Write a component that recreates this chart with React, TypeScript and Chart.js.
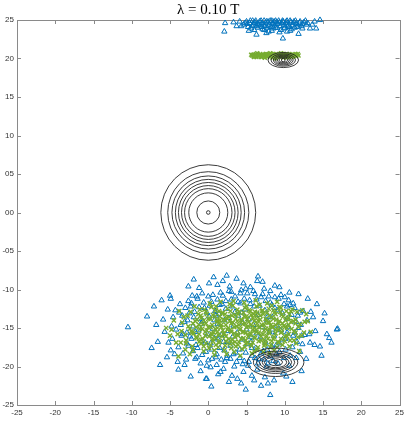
import React, { useEffect, useRef } from 'react';
import { Chart, registerables } from 'chart.js';

Chart.register(...registerables);

const titleText = 'λ = 0.10 T';
const xTicks = [-25, -20, -15, -10, -5, 0, 5, 10, 15, 20, 25];
const xTickLabels = ['-25', '-20', '-15', '-10', '-5', '0', '5', '10', '15', '20', '25'];
const yTicks = [-25, -20, -15, -10, -5, 0, 5, 10, 15, 20, 25];
const yTickLabels = ['-25', '-20', '-15', '-10', '-05', '00', '05', '10', '15', '20', '25'];

const blueTop: [number, number][] = [
  [2.2, 24.6], [2.1, 23.5], [3.3, 24.7], [3.7, 24.2], [4.3, 24.2], [4.6, 24.4], [5.0, 24.8], [5.2, 24.1],
  [5.4, 24.6], [5.6, 23.9], [5.8, 24.9], [5.9, 24.3], [6.1, 24.7], [6.3, 23.1], [6.4, 24.5], [6.5, 24.0],
  [6.7, 24.8], [6.8, 24.3], [7.0, 24.6], [7.1, 23.8], [7.3, 24.9], [7.4, 24.2], [7.5, 24.6], [7.7, 24.0],
  [7.8, 24.8], [7.9, 23.5], [8.0, 24.4], [8.1, 24.9], [8.2, 24.1], [8.4, 24.6], [8.5, 23.9], [8.6, 24.8],
  [8.7, 24.3], [8.9, 24.7], [9.0, 24.0], [9.1, 24.5], [9.2, 24.9], [9.4, 24.2], [9.5, 23.7], [9.6, 24.6],
  [9.75, 22.6], [9.8, 24.8], [9.9, 24.3], [10.0, 24.0], [10.1, 24.6], [10.3, 23.5], [10.3, 24.9], [10.5, 24.4],
  [10.6, 24.1], [10.8, 24.7], [11.0, 24.3], [11.2, 24.8], [11.3, 24.0], [11.5, 24.5], [11.8, 23.2], [11.9, 24.6],
  [12.2, 24.2], [12.5, 24.7], [12.8, 24.4], [13.3, 23.9], [14.1, 23.9], [14.6, 25.0], [13.6, 24.4], [8.3, 23.6],
  [6.0, 23.7], [7.6, 23.3], [10.9, 23.8],
  [5.1, 24.5], [5.5, 24.9], [5.7, 24.2], [6.0, 24.6], [6.2, 24.9], [6.6, 24.4], [6.9, 24.9], [7.2, 24.4],
  [7.6, 24.8], [7.9, 24.2], [8.3, 24.9], [8.5, 24.5], [8.8, 24.9], [9.3, 24.7], [9.7, 24.9], [10.2, 24.8],
  [10.4, 24.2], [10.7, 24.9], [11.1, 24.6], [11.4, 24.9], [11.7, 24.3], [12.0, 24.8], [12.3, 24.5], [12.7, 24.9],
  [13.0, 24.6], [6.3, 24.2], [7.0, 24.1], [8.8, 24.0], [9.9, 23.9], [11.6, 24.1], [5.3, 23.6], [7.3, 23.7],
  [9.3, 23.4], [10.7, 23.6], [12.3, 23.9], [4.8, 24.6], [4.1, 24.8], [13.9, 24.8]
];

const greenTop: [number, number][] = [
  [5.7, 20.4], [5.9, 20.3], [6.0, 20.5], [6.2, 20.4], [6.3, 20.2], [6.5, 20.5], [6.6, 20.3], [6.8, 20.6],
  [6.9, 20.4], [7.0, 20.2], [7.2, 20.5], [7.3, 20.3], [7.5, 20.6], [7.6, 20.4], [7.7, 20.2], [7.9, 20.5],
  [8.0, 20.3], [8.2, 20.6], [8.3, 20.4], [8.4, 20.1], [8.6, 20.5], [8.7, 20.3], [8.9, 20.6], [9.0, 20.4],
  [9.1, 20.2], [9.3, 20.5], [9.4, 20.3], [9.6, 20.6], [9.7, 20.4], [9.8, 20.1], [10.0, 20.5], [10.1, 20.3],
  [10.3, 20.6], [10.4, 20.4], [10.5, 20.2], [10.7, 20.5], [10.8, 20.3], [11.0, 20.5], [11.1, 20.3], [11.3, 20.4],
  [11.5, 20.5], [11.7, 20.6], [6.4, 20.7], [7.4, 20.1], [8.1, 20.7], [8.8, 20.0], [9.5, 20.7], [10.2, 20.1],
  [7.8, 20.4], [9.2, 20.4],
  [5.8, 20.5], [6.1, 20.3], [6.4, 20.4], [6.7, 20.5], [7.1, 20.4], [7.4, 20.5], [7.7, 20.5], [8.0, 20.5],
  [8.3, 20.3], [8.5, 20.5], [8.8, 20.4], [9.1, 20.5], [9.4, 20.5], [9.7, 20.3], [10.0, 20.3], [10.2, 20.5],
  [10.5, 20.4], [10.9, 20.4], [11.2, 20.5], [11.5, 20.3], [6.2, 20.6], [6.9, 20.2], [7.6, 20.6], [8.4, 20.6],
  [9.0, 20.2], [9.8, 20.6], [10.6, 20.6], [11.4, 20.6], [6.0, 20.2], [7.2, 20.3], [8.6, 20.2], [9.9, 20.4],
  [10.9, 20.2], [5.6, 20.5], [11.8, 20.4]
];

const blueBottom: [number, number][] = [
  [-10.5, -14.9], [-8.0, -13.5], [-5.0, -10.8], [-4.9, -11.2], [-1.9, -8.7], [-5.9, -13.9], [-5.3, -12.6], [-5.7, -15.5],
  [-6.3, -19.8], [-3.9, -20.4], [-4.0, -19.4], [-5.4, -18.8], [-4.9, -17.9], [-4.7, -16.4], [-4.3, -12.7], [-3.4, -13.4],
  [-2.1, -10.8], [-0.8, -10.5], [-2.3, -12.2], [-1.4, -11.2], [-3.9, -17.5], [-2.6, -17.3], [-1.5, -18.8], [-0.2, -19.9],
  [-0.2, -21.6], [0.7, -8.4], [2.4, -8.2], [3.7, -8.6], [1.2, -9.4], [6.4, -8.9], [5.5, -9.7], [9.3, -9.7],
  [8.1, -10.2], [10.6, -10.4], [11.8, -10.6], [3.0, -10.3], [4.2, -10.5], [10.3, -12.2], [12.4, -12.8], [13.4, -12.9],
  [15.0, -14.1], [16.9, -15.1], [11.5, -14.2], [10.3, -13.8], [16.8, -15.2], [15.5, -15.8], [15.8, -16.3], [14.8, -18.6],
  [12.2, -20.6], [9.8, -20.9], [7.4, -21.4], [8.1, -23.7], [-0.3, -21.6], [5.7, -21.2], [3.1, -21.2], [4.6, -20.7],
  [2.0, -20.3], [0.3, -20.1], [1.1, -19.8], [-1.7, -19.0], [12.2, -16.0], [11.6, -16.8], [12.0, -18.1],
  [-3.1, -14.2], [-2.8, -15.6], [-2.5, -13.1], [-2.2, -16.4], [-2.0, -14.8], [-1.8, -12.9], [-1.6, -17.2], [-1.3, -15.3],
  [-1.1, -13.8], [-0.9, -16.7], [-0.7, -14.1], [-0.5, -12.4], [-0.3, -18.1], [-0.1, -15.8], [0.1, -13.5], [0.3, -17.0],
  [0.4, -11.6], [0.6, -15.1], [0.8, -16.3], [0.9, -12.8], [1.1, -18.4], [1.2, -14.5], [1.4, -13.2], [1.5, -17.6],
  [1.7, -15.9], [1.8, -11.9], [2.0, -16.8], [2.1, -14.0], [2.3, -12.5], [2.4, -18.9], [2.6, -15.4], [2.7, -13.7],
  [2.9, -17.3], [3.0, -11.3], [3.2, -16.1], [3.3, -14.7], [3.5, -12.9], [3.6, -18.2], [3.8, -15.6], [3.9, -13.4],
  [4.1, -17.8], [4.2, -11.8], [4.4, -16.5], [4.5, -14.3], [4.7, -19.3], [4.8, -12.6], [5.0, -15.2], [5.1, -17.1],
  [5.3, -13.9], [5.4, -11.4], [5.6, -16.8], [5.7, -18.6], [5.9, -14.6], [6.0, -12.2], [6.2, -17.6], [6.3, -15.7],
  [6.5, -13.3], [6.6, -19.0], [6.8, -16.2], [6.9, -11.0], [7.1, -14.9], [7.2, -18.0], [7.4, -12.7], [7.5, -16.9],
  [7.7, -14.0], [7.8, -19.6], [8.0, -15.5], [8.1, -11.7], [8.3, -17.4], [8.4, -13.6], [8.6, -16.0], [8.7, -12.4],
  [8.9, -18.4], [9.0, -14.7], [9.2, -11.2], [9.3, -17.0], [9.5, -15.3], [9.7, -13.1], [9.9, -18.9], [10.1, -16.4],
  [10.4, -14.9], [10.7, -12.0], [11.0, -17.5], [11.3, -15.6], [11.7, -13.4], [12.1, -14.6], [0.0, -10.9], [1.6, -10.4],
  [-2.6, -11.5], [-3.5, -16.0], [-3.3, -18.3], [-1.0, -19.6], [0.5, -19.0], [2.2, -19.4], [3.4, -20.0], [5.2, -19.9],
  [6.4, -20.4], [7.6, -20.0], [9.1, -19.6], [6.1, -10.6], [7.3, -9.9], [4.9, -9.9], [2.8, -9.6], [-1.2, -9.8],
  [10.0, -11.0], [11.1, -11.8], [13.2, -15.8], [13.9, -17.2], [12.8, -19.0], [-4.2, -15.2], [-4.6, -13.6], [-3.7, -11.9],
  [-2.9, -19.1], [1.3, -21.0], [8.6, -21.8], [10.6, -19.9], [4.3, -22.2], [6.9, -22.5], [-6.6, -16.8], [-7.1, -12.2],
  [14.2, -11.9],
  [-3.8, -13.0], [-3.6, -14.6], [-3.3, -15.8], [-3.0, -12.4], [-2.8, -17.0], [-2.7, -14.0], [-2.4, -16.1], [-2.2, -11.8],
  [-2.0, -18.0], [-1.9, -13.6], [-1.7, -15.5], [-1.5, -10.9], [-1.4, -17.6], [-1.2, -12.3], [-1.0, -14.5], [-0.8, -18.5],
  [-0.6, -11.7], [-0.4, -16.9], [-0.2, -13.0], [0.0, -19.2], [0.2, -12.1], [0.4, -17.8], [0.6, -10.7], [0.8, -14.0],
  [1.0, -18.8], [1.2, -11.3], [1.3, -16.5], [1.5, -12.0], [1.7, -19.1], [1.9, -10.8], [2.1, -17.9], [2.3, -11.5],
  [2.5, -18.6], [2.7, -10.2], [2.9, -19.0], [3.1, -12.2], [3.3, -18.4], [3.5, -10.9], [3.7, -19.4], [3.9, -11.6],
  [4.1, -18.9], [4.3, -10.1], [4.5, -19.7], [4.7, -11.2], [4.9, -18.2], [5.1, -10.5], [5.3, -19.4], [5.5, -11.9],
  [5.7, -17.6], [5.9, -10.2], [6.1, -18.9], [6.3, -11.3], [6.5, -19.6], [6.7, -12.1], [6.9, -18.3], [7.1, -10.6],
  [7.3, -19.1], [7.5, -11.5], [7.7, -17.8], [7.9, -10.9], [8.1, -18.7], [8.3, -12.0], [8.5, -19.3], [8.7, -11.0],
  [8.9, -17.2], [9.1, -12.7], [9.3, -18.1], [9.5, -10.7], [9.7, -16.5], [9.9, -11.9], [10.1, -17.8], [10.3, -15.6],
  [10.5, -11.4], [10.7, -18.6], [10.9, -13.3], [11.1, -16.0], [11.3, -12.4], [11.5, -18.9], [11.8, -15.0], [12.0, -13.0],
  [12.3, -17.1], [12.6, -15.9], [12.9, -14.0], [13.3, -16.9], [13.7, -13.6], [14.0, -15.4], [-4.4, -18.4], [-4.8, -14.8],
  [-5.2, -16.9], [-3.1, -19.8], [-1.0, -20.6], [1.6, -20.7], [3.8, -21.6], [6.0, -21.8], [7.8, -22.2], [10.2, -21.3],
  [-2.6, -9.6], [0.1, -9.2], [1.9, -8.9], [4.6, -9.2], [7.1, -9.0], [8.7, -9.5], [-6.1, -11.4], [-6.8, -14.6],
  [-7.4, -17.6], [13.0, -11.2], [15.2, -13.1], [14.6, -17.4], [16.1, -16.9], [11.0, -22.0], [4.9, -23.0], [0.4, -22.6],
  [2.7, -22.0], [-2.3, -21.3], [6.5, -8.3], [1.0, -13.4], [4.4, -13.0], [7.7, -13.6], [2.6, -16.8], [5.6, -16.2],
  [8.4, -15.2]
];

const greenBottom: [number, number][] = [
  [-5.0, -16.0], [-4.5, -14.0], [-3.9, -18.7], [-3.5, -15.4], [-3.2, -13.6], [-2.9, -16.6], [-2.6, -14.8], [-2.3, -12.9],
  [-2.1, -17.4], [-1.9, -15.7], [-1.7, -14.1], [-1.5, -16.3], [-1.3, -13.2], [-1.1, -15.1], [-0.9, -17.0], [-0.7, -14.5],
  [-0.5, -12.6], [-0.4, -16.0], [-0.2, -15.3], [0.0, -13.8], [0.1, -17.6], [0.3, -14.9], [0.4, -12.3], [0.6, -16.4],
  [0.7, -15.6], [0.9, -13.5], [1.0, -17.2], [1.1, -14.2], [1.3, -15.9], [1.4, -12.8], [1.5, -16.7], [1.7, -14.6],
  [1.8, -13.1], [1.9, -15.3], [2.1, -17.9], [2.2, -14.0], [2.3, -16.1], [2.5, -12.5], [2.6, -15.0], [2.7, -13.6],
  [2.8, -17.0], [3.0, -14.4], [3.1, -16.5], [3.2, -12.1], [3.4, -15.7], [3.5, -13.3], [3.6, -17.4], [3.7, -14.8],
  [3.9, -16.0], [4.0, -12.9], [4.1, -15.2], [4.3, -13.9], [4.4, -17.7], [4.5, -14.5], [4.6, -16.3], [4.8, -12.4],
  [4.9, -15.6], [5.0, -13.5], [5.1, -16.9], [5.3, -14.2], [5.4, -15.9], [5.5, -12.8], [5.6, -17.3], [5.8, -14.8],
  [5.9, -13.2], [6.0, -16.2], [6.1, -15.0], [6.3, -12.2], [6.4, -17.8], [6.5, -14.0], [6.6, -15.6], [6.8, -13.4],
  [6.9, -16.6], [7.0, -14.6], [7.1, -12.7], [7.3, -15.3], [7.4, -17.1], [7.5, -13.8], [7.6, -16.0], [7.8, -14.3],
  [7.9, -12.5], [8.0, -15.7], [8.1, -17.5], [8.3, -13.6], [8.4, -14.9], [8.5, -16.4], [8.7, -12.9], [8.8, -15.2],
  [8.9, -13.9], [9.1, -16.8], [9.2, -14.4], [9.3, -12.3], [9.5, -15.6], [9.6, -13.3], [9.7, -17.2], [9.9, -14.7],
  [10.0, -16.1], [10.2, -12.8], [10.3, -15.0], [10.5, -13.7], [10.7, -16.6], [10.8, -14.2], [11.0, -12.6], [11.2, -15.4],
  [11.4, -13.9], [11.7, -16.2], [12.0, -14.5], [10.8, -12.8], [13.0, -14.1], [12.5, -15.6], [12.8, -13.2], [-0.6, -18.0],
  [0.8, -18.5], [2.4, -18.4], [4.2, -18.6], [5.7, -18.3], [7.2, -18.1], [8.6, -17.9], [-1.8, -12.2], [0.2, -11.8],
  [1.6, -11.6], [3.3, -11.5], [4.7, -11.7], [6.2, -11.4], [7.7, -11.8], [9.0, -11.6], [-3.0, -17.8], [-4.2, -16.9],
  [-4.8, -15.2], [1.2, -15.0], [2.0, -15.8], [2.9, -15.2], [3.8, -14.1], [4.5, -15.5], [5.2, -14.8], [6.0, -15.4],
  [6.7, -14.9], [7.3, -16.5], [8.2, -14.6], [3.5, -16.8], [4.9, -17.0], [2.4, -13.7], [5.8, -13.7], [1.5, -14.0],
  [6.4, -13.0], [-0.9, -13.7], [0.5, -15.9], [7.9, -15.1], [9.4, -15.0], [10.1, -14.0], [-2.2, -15.4], [-1.0, -16.5],
  [11.5, -17.0], [12.3, -12.7], [-3.8, -12.8], [-5.5, -15.0], [-2.4, -18.4], [13.4, -15.5], [11.9, -18.0],
  [-0.3, -12.9], [0.9, -12.7], [1.9, -13.0], [2.9, -12.8], [3.8, -12.6], [4.6, -13.0], [5.3, -12.7], [6.1, -12.9],
  [7.0, -12.8], [7.7, -13.0], [8.5, -12.7], [9.4, -12.9], [-1.0, -13.4], [-0.2, -13.2], [0.6, -13.3], [1.5, -13.5],
  [2.2, -13.2], [3.1, -13.4], [3.9, -13.2], [4.7, -13.5], [5.6, -13.3], [6.3, -13.5], [7.2, -13.2], [8.0, -13.4],
  [8.8, -13.2], [9.8, -13.5], [10.6, -13.2], [-1.5, -13.9], [-0.6, -14.0], [0.3, -13.8], [1.2, -14.0], [2.0, -13.9],
  [2.8, -14.1], [3.6, -13.8], [4.4, -14.0], [5.1, -13.8], [6.0, -14.1], [6.8, -13.9], [7.6, -14.1], [8.5, -13.8],
  [9.3, -14.1], [10.3, -13.8], [11.1, -14.1], [-2.0, -14.4], [-1.2, -14.6], [-0.3, -14.4], [0.5, -14.6], [1.4, -14.4],
  [2.3, -14.6], [3.2, -14.3], [4.0, -14.6], [4.8, -14.4], [5.6, -14.6], [6.4, -14.4], [7.3, -14.6], [8.0, -14.3],
  [8.8, -14.6], [9.7, -14.4], [10.5, -14.6], [11.4, -14.4], [-2.4, -15.1], [-1.6, -14.9], [-0.8, -15.1], [0.0, -14.9],
  [0.9, -15.1], [1.7, -14.9], [2.5, -15.2], [3.4, -14.9], [4.2, -15.1], [5.0, -14.9], [5.8, -15.2], [6.6, -14.9],
  [7.5, -15.1], [8.3, -14.9], [9.1, -15.2], [10.0, -14.9], [10.9, -15.1], [11.8, -14.9], [-2.1, -15.6], [-1.2, -15.8],
  [-0.4, -15.5], [0.4, -15.7], [1.2, -15.5], [2.1, -15.7], [3.0, -15.5], [3.8, -15.8], [4.6, -15.5], [5.5, -15.7],
  [6.3, -15.5], [7.1, -15.8], [7.9, -15.5], [8.8, -15.7], [9.6, -15.5], [10.5, -15.8], [11.4, -15.6], [-1.6, -16.2],
  [-0.7, -16.4], [0.1, -16.1], [1.0, -16.3], [1.8, -16.1], [2.7, -16.4], [3.5, -16.2], [4.3, -16.4], [5.2, -16.1],
  [6.1, -16.3], [6.9, -16.1], [7.8, -16.4], [8.6, -16.2], [9.5, -16.4], [10.3, -16.1], [-1.2, -16.8], [-0.3, -17.0],
  [0.6, -16.7], [1.4, -16.9], [2.3, -16.7], [3.2, -17.0], [4.0, -16.8], [4.9, -16.6], [5.8, -16.9], [6.6, -16.7],
  [7.5, -17.0], [8.3, -16.7], [9.2, -16.9], [10.0, -16.7], [-0.6, -17.4], [0.3, -17.2], [1.3, -17.5], [2.2, -17.3],
  [3.0, -17.6], [3.9, -17.2], [4.8, -17.5], [5.6, -17.2], [6.5, -17.5], [7.3, -17.3], [8.2, -17.2], [9.0, -17.5],
  [-3.4, -14.3], [-3.0, -15.9], [-2.7, -13.4], [-2.9, -17.0], [-4.0, -15.8], [-3.6, -16.9], [10.6, -17.4], [11.2, -16.6],
  [12.2, -16.0], [11.6, -12.9], [12.6, -14.2], [9.5, -12.4], [1.0, -12.2], [2.8, -11.9], [5.0, -12.2], [6.7, -12.0],
  [8.3, -12.1], [-1.1, -12.6], [0.8, -17.9], [3.4, -18.1], [6.0, -18.0], [8.0, -18.3], [-2.0, -17.9]
];

// contour groups: centres and ellipse radii (data units)
const contourCenters: [number, number][] = [[0, 0], [9.8, 19.8], [8.8, -19.45]];
const mainRx = [6.2, 5.3, 4.75, 4.3, 3.9, 3.5, 3.1, 2.55, 1.5];
const mainRy = [6.2, 5.3, 4.75, 4.3, 3.9, 3.5, 3.1, 2.55, 1.5];
const topRx = [2.0, 1.6, 1.3, 1.05, 0.8, 0.55];
const topRy = [0.98, 0.8, 0.65, 0.52, 0.4, 0.28];
const botRx = [3.7, 2.9, 2.5, 2.1, 1.75, 1.45, 0.9];
const botRy = [1.85, 1.45, 1.22, 1.02, 0.85, 0.7, 0.45];

const toPts = (arr: [number, number][]) => arr.map(([x, y]) => ({ x, y }));

const titlePlugin = {
  id: 'centeredTitle',
  afterDraw(chart: any) {
    const { ctx, chartArea: a } = chart;
    ctx.save();
    ctx.fillStyle = '#000';
    ctx.font = "15px 'Liberation Serif', 'DejaVu Serif', serif";
    ctx.textAlign = 'center';
    ctx.textBaseline = 'middle';
    ctx.fillText(titleText, (a.left + a.right) / 2, 10);
    ctx.restore();
  },
};

const framePlugin = {
  id: 'frame',
  beforeDatasetsDraw(chart: any) {
    const { ctx, chartArea: a, scales } = chart;
    ctx.save();
    ctx.strokeStyle = '#8a8a8a';
    ctx.lineWidth = 1;
    ctx.strokeRect(Math.round(a.left) + 0.5, Math.round(a.top) + 0.5, Math.round(a.right - a.left), Math.round(a.bottom - a.top));
    const tl = 4;
    ctx.beginPath();
    scales.x.ticks.forEach((t: any) => {
      const px = Math.round(scales.x.getPixelForValue(t.value)) + 0.5;
      ctx.moveTo(px, a.bottom); ctx.lineTo(px, a.bottom - tl);
      ctx.moveTo(px, a.top); ctx.lineTo(px, a.top + tl);
    });
    scales.y.ticks.forEach((t: any) => {
      const py = Math.round(scales.y.getPixelForValue(t.value)) + 0.5;
      ctx.moveTo(a.left, py); ctx.lineTo(a.left + tl, py);
      ctx.moveTo(a.right, py); ctx.lineTo(a.right - tl, py);
    });
    ctx.stroke();
    ctx.restore();
  },
};

const contourPlugin = {
  id: 'contours',
  afterDatasetsDraw(chart: any) {
    const { ctx, scales } = chart;
    const groups: [number[], number[]][] = [[mainRx, mainRy], [topRx, topRy], [botRx, botRy]];
    ctx.save();
    ctx.strokeStyle = '#262626';
    ctx.lineWidth = 0.9;
    groups.forEach(([rxs, rys], gi) => {
      const [cx, cy] = contourCenters[gi];
      const pcx = scales.x.getPixelForValue(cx);
      const pcy = scales.y.getPixelForValue(cy);
      rxs.forEach((rx, i) => {
        const prx = Math.abs(scales.x.getPixelForValue(cx + rx) - pcx);
        const pry = Math.abs(scales.y.getPixelForValue(cy + rys[i]) - pcy);
        ctx.beginPath();
        ctx.ellipse(pcx, pcy, prx, pry, 0, 0, Math.PI * 2);
        ctx.stroke();
      });
    });
    ctx.restore();
  },
};

export default function App() {
  const ref = useRef<HTMLCanvasElement>(null);
  useEffect(() => {
    const chart = new Chart(ref.current as HTMLCanvasElement, {
      type: 'scatter',
      data: {
        datasets: [
          {
            label: 'centres',
            data: toPts(contourCenters),
            pointStyle: 'circle',
            pointRadius: 1.8,
            borderColor: '#222',
            backgroundColor: 'rgba(0,0,0,0)',
            borderWidth: 0.9,
            order: 0,
            clip: false,
          },
          {
            label: 'green bottom',
            data: toPts(greenBottom),
            pointStyle: 'crossRot',
            pointRadius: 3.0,
            borderColor: '#77AC30',
            backgroundColor: '#77AC30',
            borderWidth: 1.4,
            order: 1,
            clip: false,
          },
          {
            label: 'green top',
            data: toPts(greenTop),
            pointStyle: 'crossRot',
            pointRadius: 2.8,
            borderColor: '#77AC30',
            backgroundColor: '#77AC30',
            borderWidth: 1.4,
            order: 1,
            clip: false,
          },
          {
            label: 'blue bottom',
            data: toPts(blueBottom),
            pointStyle: 'triangle',
            pointRadius: 3.1,
            borderColor: '#0072BD',
            backgroundColor: 'rgba(0,0,0,0)',
            borderWidth: 1,
            order: 2,
            clip: false,
          },
          {
            label: 'blue top',
            data: toPts(blueTop),
            pointStyle: 'triangle',
            pointRadius: 3.1,
            borderColor: '#0072BD',
            backgroundColor: 'rgba(0,0,0,0)',
            borderWidth: 1,
            order: 2,
            clip: false,
          },
        ],
      },
      options: {
        animation: false,
        responsive: false,
        maintainAspectRatio: false,
        layout: { padding: { left: 0, right: 7, top: 20, bottom: 0 } },
        plugins: {
          legend: { display: false },
          tooltip: { enabled: false },
          title: { display: false },
        },
        scales: {
          x: {
            type: 'linear',
            min: -25,
            max: 25,
            afterBuildTicks: (s: any) => { s.ticks = xTicks.map((v) => ({ value: v })); },
            afterFit: (s: any) => { s.height = 16; },
            grid: { display: false, drawTicks: false },
            border: { display: false },
            ticks: {
              padding: 3,
              color: '#333',
              font: { family: "'Liberation Sans', Arial, sans-serif", size: 8 },
              maxRotation: 0,
              callback: (v: any) => xTickLabels[xTicks.indexOf(Number(v))] ?? '',
            },
          },
          y: {
            type: 'linear',
            min: -25,
            max: 25,
            afterBuildTicks: (s: any) => { s.ticks = yTicks.map((v) => ({ value: v })); },
            afterFit: (s: any) => { s.width = 17; },
            grid: { display: false, drawTicks: false },
            border: { display: false },
            ticks: {
              padding: 3,
              color: '#333',
              font: { family: "'Liberation Sans', Arial, sans-serif", size: 8 },
              callback: (v: any) => yTickLabels[yTicks.indexOf(Number(v))] ?? '',
            },
          },
        },
      },
      plugins: [framePlugin, contourPlugin, titlePlugin],
    } as any);
    return () => chart.destroy();
  }, []);
  return (
    <div style={{ position: 'absolute', left: 0, top: 0, width: 407, height: 421 }}>
      <canvas ref={ref} width={407} height={421} style={{ display: 'block', width: 407, height: 421 }} />
    </div>
  );
}
